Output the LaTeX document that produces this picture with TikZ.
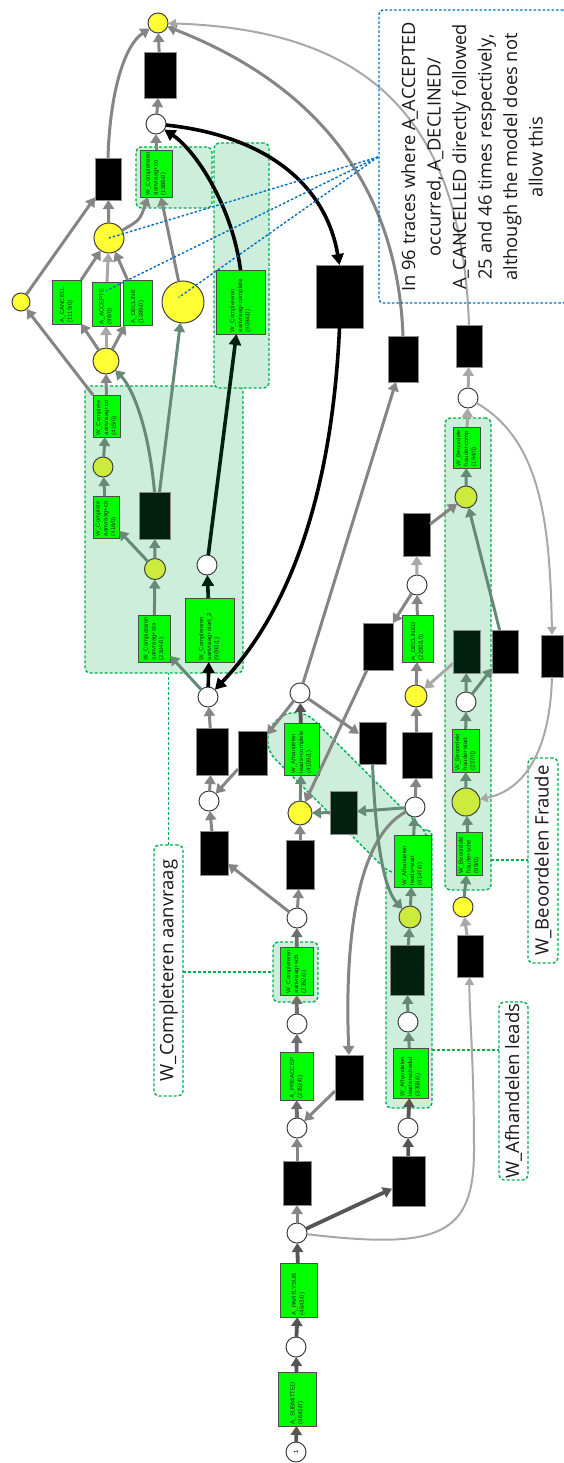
\documentclass[tikz,border=0pt]{standalone}
\usepackage{fontspec}
\newfontfamily\lblfont{Open Sans}
\newfontfamily\tnyfont{Liberation Sans}
\usetikzlibrary{arrows.meta,calc}
\definecolor{tgreen}{HTML}{00FF00}
\definecolor{regfill}{HTML}{CDEEDB}
\definecolor{regdash}{HTML}{00B050}
\definecolor{annblue}{HTML}{0070C0}
\definecolor{yel}{HTML}{FFFF33}
\definecolor{ygr}{HTML}{CCEB3C}
\definecolor{dkbox}{HTML}{02200F}
\definecolor{gdark}{HTML}{555555}
\definecolor{gmid}{HTML}{858585}
\definecolor{glight}{HTML}{A8A8A8}
\definecolor{ggreen}{HTML}{658A76}
\definecolor{dgreen}{HTML}{02200F}
\newcommand\tbx[6]{\node[#1, minimum width=#4pt-#2pt, minimum height=#5pt-#3pt] (#6) at ({(#2+#4)/2},{(#3+#5)/2}) {};}
\newcommand\ttx[2]{\node[ttext] (#1-t) at ([yshift=1.2pt]#1.south) {#2};}
\tikzset{
 trans/.style={draw=black!70, fill=tgreen, line width=0.6pt, inner sep=0pt, outer sep=0pt},
 silent/.style={draw=black!45, fill=black, line width=0.6pt, inner sep=0pt, outer sep=0pt},
 darkbox/.style={draw=black!45, fill=dkbox, line width=0.6pt, inner sep=0pt, outer sep=0pt},
 place/.style={circle, draw=black!75, line width=1pt, fill=white, inner sep=0pt, outer sep=0pt, minimum size=20pt},
 yplace/.style={place, fill=yel},
 gplace/.style={place, fill=ygr},
 ttext/.style={rotate=90, anchor=west, inner sep=0.5pt, align=left, font=\tnyfont\fontsize{6}{7.6}\selectfont, text=black!85},
 region/.style={draw=regdash, dash pattern=on 3pt off 2pt, line width=1.4pt, fill=regfill, rounded corners=5pt, inner sep=0pt, outer sep=0pt},
 lbox/.style={draw=regdash, dash pattern=on 3pt off 2pt, line width=1.4pt, fill=white, rounded corners=5pt, inner sep=0pt, outer sep=0pt},
 conn/.style={draw=regdash, dash pattern=on 3pt off 2pt, line width=1.4pt},
 lbltxt/.style={rotate=90, font=\lblfont\fontsize{18.5}{22}\selectfont, text=black!90},
 e/.style={-{Triangle[length=9pt,width=11pt]}, line width=3pt, draw=gmid},
 em/.style={-{Triangle[length=9pt,width=11pt]}, line width=3.8pt, draw=gdark},
 eth/.style={-{Triangle[length=8pt,width=9pt]}, line width=2pt, draw=glight},
 blk/.style={-{Triangle[length=11pt,width=12pt]}, line width=3.6pt, draw=black},
 ann/.style={draw=annblue, dash pattern=on 2.5pt off 2pt, line width=1.4pt}
}
\begin{document}
\begin{tikzpicture}[x=1pt,y=-1pt]
\useasboundingbox (0,0) rectangle (564,1463);
% regions
\tbx{region}{85}{386}{243}{673}{Rwc}
\tbx{region}{136}{147}{212}{208}{Rwc1888}
\tbx{region}{214}{143}{269}{388}{Rwc9094}
\tbx{region}{273}{942}{318}{1002}{Rwcs}
\tbx{region}{386}{830}{432}{1108}{Rafh}
\node[region, rotate=-45, minimum width=204pt, minimum height=55pt, rounded corners=27pt] (Rpill) at (348,793) {};
\tbx{region}{445}{418}{491}{890}{Rbeo}
% label boxes
\tbx{lbox}{154}{845}{183}{1096}{Lwc}
\node[lbltxt] (Lwct) at (Lwc) {W\_Completeren aanvraag};
\tbx{lbox}{499}{1002}{528}{1180}{Lafh}
\node[lbltxt] (Lafht) at (Lafh) {W\_Afhandelen leads};
\tbx{lbox}{528}{758}{558}{963}{Lbeo}
\node[lbltxt] (Lbeot) at (Lbeo) {W\_Beoordelen Fraude};
\draw[conn] (Lwc.north) -- (Lwc.north |- Rwc.south);
\draw[conn] (Lwc.east |- Rwcs.west) -- (Rwcs.west);
\coordinate (cafh) at (432,1050);
\draw[conn] (cafh) -- (cafh -| Lafh.west);
\coordinate (cbeo) at (491,860);
\draw[conn] (cbeo) -- (cbeo -| Lbeo.west);
% places
\node[place] (pS) at (296,1452) {};
\node[rotate=90, font=\tnyfont\fontsize{6}{6}\selectfont] (pSt) at (pS) {1};
\node[place] (p1) at (296,1347) {};
\node[place] (p2) at (297,1233) {};
\node[place] (p3) at (297,1128) {};
\node[place] (p4) at (297,1024) {};
\node[place] (p5) at (297,918) {};
\node[yplace, minimum size=24pt] (ymid) at (300,813) {};
\node[place] (p6) at (300,693) {};
\node[place] (p7) at (209,801) {};
\node[place] (p8) at (208,697) {};
\node[gplace, minimum size=21pt] (yg1) at (155,569) {};
\node[place] (pw) at (207,565) {};
\node[gplace] (yg2) at (103,467) {};
\node[yplace, minimum size=26pt] (yup) at (106,361) {};
\node[yplace, minimum size=18pt] (ysm) at (21,302) {};
\node[yplace, minimum size=42pt] (ybig) at (183,302) {};
\node[yplace, minimum size=30pt] (ytop) at (109,238) {};
\node[place] (ptop) at (156,124) {};
\node[yplace] (pfin) at (158,23) {};
\node[place] (p9) at (408,1128) {};
\node[place] (p10) at (408,1022) {};
\node[gplace, minimum size=22pt] (yg3) at (410,917) {};
\node[place] (p11) at (415,807) {};
\node[yplace, minimum size=22pt] (yd) at (416,696) {};
\node[place] (p12) at (417,585) {};
\node[yplace] (yb) at (463,907) {};
\node[gplace, minimum size=28pt] (ygbig) at (466,802) {};
\node[place] (p13) at (466,702) {};
\node[gplace, minimum size=22pt] (yg4) at (466,497) {};
\node[place] (p14) at (468,398) {};
% transitions
\tbx{trans}{278}{1372}{316}{1426}{tsub}\ttx{tsub}{A\_SUBMITTED\\(4643/0)}
\tbx{trans}{280}{1263}{317}{1317}{tpart}\ttx{tpart}{A\_PARTLYSUB\\(4643/0)}
\tbx{trans}{280}{1052}{313}{1100}{tpre}\ttx{tpre}{A\_PREACCEP\\(2352/0)}
\tbx{trans}{280}{947}{313}{995}{twcs}\ttx{twcs}{W\_Completeren\\aanvraag+sch\\(2352/0)}
\tbx{trans}{284}{723}{319}{775}{tafc}\ttx{tafc}{W\_Afhandelen\\leads+complete\\(4159/1)}
\tbx{trans}{394}{835}{431}{887}{tafs}\ttx{tafs}{W\_Afhandelen\\leads+start\\(4147/0)}
\tbx{trans}{393}{1048}{428}{1098}{tafsch}\ttx{tafsch}{W\_Afhandelen\\leads+schedul\\(3358/0)}
\tbx{trans}{402}{615}{433}{662}{tdec}\ttx{tdec}{A\_DECLINED\\(2290/10)}
\tbx{trans}{456}{832}{482}{875}{tbsch}\ttx{tbsch}{W\_Beoordele\\fraude+sche\\(69/0)}
\tbx{trans}{452}{729}{479}{772}{tbst}\ttx{tbst}{W\_Beoordele\\fraude+start\\(207/0)}
\tbx{trans}{453}{427}{480}{468}{tbcomp}\ttx{tbcomp}{W\_Beoordele\\fraude+comp\\(194/0)}
\tbx{trans}{138}{615}{170}{662}{twst}\ttx{twst}{W\_Completeren\\aanvraag+sta\\(2304/0)}
\tbx{trans}{185}{598}{234}{662}{twst2}\ttx{twst2}{W\_Completeren\\aanvraag+start\_2\\(9093/1)}
\tbx{trans}{93}{496}{119}{538}{twcA}\ttx{twcA}{W\_Complete\\aanvraag+co\\(416/0)}
\tbx{trans}{93}{395}{120}{437}{twcB}\ttx{twcB}{W\_Complete\\aanvraag+co\\(416/0)}
\tbx{trans}{216}{270}{265}{334}{twc9094}\ttx{twc9094}{W\_Completeren\\aanvraag+complete\\(9094/0)}
\tbx{trans}{140}{150}{172}{197}{twc1888}\ttx{twc1888}{W\_Completeren\\aanvraag+co\\(1888/0)}
\tbx{trans}{52}{280}{81}{324}{tcan}\ttx{tcan}{A\_CANCELL\\(1119/0)}
\tbx{trans}{92}{282}{120}{326}{tacc}\ttx{tacc}{A\_ACCEPTE\\(96/0)}
\tbx{trans}{123}{280}{152}{325}{tdecl}\ttx{tdecl}{A\_DECLINE\\(1089/0)}
% silent transitions
\tbx{silent}{283}{1161}{311}{1205}{b1}
\tbx{silent}{392}{1156}{425}{1206}{b2}
\tbx{silent}{335}{1055}{363}{1100}{b3}
\tbx{silent}{457}{935}{483}{977}{b4}
\tbx{silent}{286}{840}{314}{889}{b5}
\tbx{silent}{200}{831}{228}{875}{b6}
\tbx{silent}{196}{728}{228}{775}{b7}
\tbx{silent}{238}{731}{267}{775}{b8}
\tbx{silent}{359}{722}{386}{764}{b9}
\tbx{silent}{363}{623}{393}{670}{b10}
\tbx{silent}{402}{732}{432}{778}{b11}
\tbx{silent}{492}{630}{518}{673}{b12}
\tbx{silent}{541}{635}{563}{677}{b13}
\tbx{silent}{403}{513}{430}{556}{b14}
\tbx{silent}{388}{336}{418}{382}{b15}
\tbx{silent}{456}{325}{482}{367}{b16}
\tbx{silent}{316}{265}{363}{328}{b17}
\tbx{silent}{95}{158}{121}{200}{b18}
\tbx{silent}{144}{52}{176}{98}{b19}
\tbx{darkbox}{390}{945}{424}{995}{d1}
\tbx{darkbox}{330}{791}{357}{834}{d2}
\tbx{darkbox}{453}{630}{480}{673}{d3}
\tbx{darkbox}{139}{492}{170}{539}{d4}
% arcs: main chain
\draw[em] (pS) -- (tsub);
\draw[em] (tsub) -- (p1);
\draw[em] (p1) -- (tpart);
\draw[em] (tpart) -- (p2);
\draw[e] (p2) -- (b1);
\draw[em] (p2) -- (b2);
\draw[eth] (p2) .. controls (440,1250) and (474,1235) .. (474,1150) .. controls (474,1060) and (469,1010) .. (b4);
\draw[e] (b1) -- (p3);
\draw[em] (b2) -- (p9);
\draw[e] (b3) -- (p3);
\draw[em,draw=gdark!85] (p3) -- (tpre);
\draw[em,draw=gdark!85] (tpre) -- (p4);
\draw[em,draw=gdark!85] (p4) -- (twcs);
\draw[em,draw=gdark!85] (twcs) -- (p5);
\draw[e] (p5) -- (b5);
\draw[e] (p5) -- (b6);
\draw[e] (b5) -- (ymid);
\draw[e] (b6) -- (p7);
\draw[e,draw=ggreen] (ymid) -- (tafc);
\draw[em] (tafc) -- (p6);
\draw[e] (p6) -- (b8);
\draw[e] (p6) -- (b9);
\draw[e] (p6) -- (b15);
\draw[e] (b8) -- (p7);
\draw[e] (p7) -- (b7);
\draw[e] (b7) -- (p8);
% W_Completeren
\draw[e,draw=ggreen] (p8) -- (twst);
\draw[blk] (p8) -- (twst2);
\draw[e,draw=ggreen] (twst) -- (yg1);
\draw[blk,draw=dgreen] (twst2) -- (pw);
\draw[e,draw=ggreen] (yg1) -- (twcA);
\draw[e,draw=ggreen] (yg1) -- (d4);
\draw[e,draw=ggreen] (twcA) -- (yg2);
\draw[e,draw=ggreen] (yg2) -- (twcB);
\draw[e] (twcB) -- (yup);
\draw[e] (twcB.north west) -- (ysm);
\draw[e,draw=ggreen] (d4.north) .. controls (148,420) and (130,385) .. (yup);
\draw[e,draw=ggreen] ([xshift=5pt]d4.north) -- (ybig);
\draw[blk,draw=dgreen] (pw) -- (twc9094);
\draw[e] (yup) -- (tcan);
\draw[e,draw=glight] (yup) -- (tacc);
\draw[e] (yup) -- (tdecl);
\draw[e] (tcan) -- (ytop);
\draw[e,draw=glight] (tacc) -- (ytop);
\draw[e] (tdecl) -- (ytop);
\draw[e] (ysm) -- (b18);
\draw[e] (ytop) -- (b18);
\draw[e] (ytop) .. controls (140,220) .. (twc1888);
\draw[e] (ybig) -- (twc1888);
\draw[e] (twc1888) -- (ptop);
\draw[e] (ptop) -- (b19);
\draw[e] (b19) -- (pfin);
\draw[e] (b18.north) .. controls (110,90) and (125,45) .. (pfin);
\draw[e] (b15.north) .. controls (398,200) and (330,90) .. (pfin);
\draw[eth] (b16.north) .. controls (462,130) and (380,30) .. (pfin);
\draw[blk] (twc9094.north) .. controls (232,205) and (195,150) .. (ptop);
\draw[blk] (ptop) .. controls (260,135) and (325,180) .. (b17.north);
\draw[blk] (b17.south) .. controls (333,470) and (300,600) .. (p8);
% W_Afhandelen
\draw[em] (p9) -- (tafsch);
\draw[e,draw=ggreen] (tafsch) -- (p10);
\draw[e,draw=ggreen] (p10) -- (d1);
\draw[e,draw=ggreen] (d1) -- (yg3);
\draw[e,draw=ggreen] (yg3) -- (tafs);
\draw[e,draw=ggreen] (tafs) -- (p11);
\draw[e] (p11) -- (b11);
\draw[e,draw=ggreen] (p11) -- (d2);
\draw[e,draw=ggreen] (d2) -- (ymid);
\draw[e] (p11) .. controls (352,840) and (345,960) .. (b3.north);
\draw[e] (b11) -- (yd);
\draw[e] (yd) -- (tdec);
\draw[e] (tdec) -- (p12);
\draw[e] (p12) -- (b10);
\draw[e,draw=glight] (p12) -- (b14);
\draw[e] (b10) -- (ymid);
\draw[e,draw=ggreen] (b9.south) .. controls (376,850) and (385,890) .. (yg3);
\draw[e] (b14) -- (yg4);
% W_Beoordelen
\draw[e,draw=glight] (b4) -- (yb);
\draw[e,draw=ggreen] (yb) -- (tbsch);
\draw[e,draw=ggreen] (tbsch) -- (ygbig);
\draw[e,draw=ggreen] (ygbig) -- (tbst);
\draw[e,draw=ggreen] (tbst) -- (p13);
\draw[e,draw=ggreen] (p13) -- (d3);
\draw[e,draw=ggreen] (p13) -- (b12);
\draw[e,draw=glight] (d3) -- (yd);
\draw[e,draw=ggreen] (b12) -- (yg4);
\draw[e,draw=ggreen] (yg4) -- (tbcomp);
\draw[e,draw=glight] (tbcomp) -- (p14);
\draw[e,draw=glight] (p14) -- (b16);
\draw[eth] (p14) .. controls (540,440) and (550,520) .. (b13.north);
\draw[eth] (b13.south) .. controls (550,750) and (525,790) .. (ygbig);
% annotation (drawn on top of the curves)
\node[ann, rounded corners=4pt, minimum width=188pt, minimum height=293pt, inner sep=0pt] (annbox) at (473,156.5) {};
\node[rotate=90, align=center, font=\lblfont\fontsize{18.3}{25.5}\selectfont, text=black!90] (anntext) at (472,157) {In 96 traces where A\_ACCEPTED\\occurred, A\_DECLINED/\\A\_CANCELLED directly followed\\25 and 46 times respectively,\\although the model does not\\allow this};
\coordinate (annp) at (378,157);
\draw[ann] (annp) -- (ytop.center);
\draw[ann] (annp) -- ($(tacc.north)!0.2!(tacc.south)$);
\draw[ann] (annp) -- ($(ybig.center)!0.3!(ybig.north west)$);
\end{tikzpicture}
\end{document}
